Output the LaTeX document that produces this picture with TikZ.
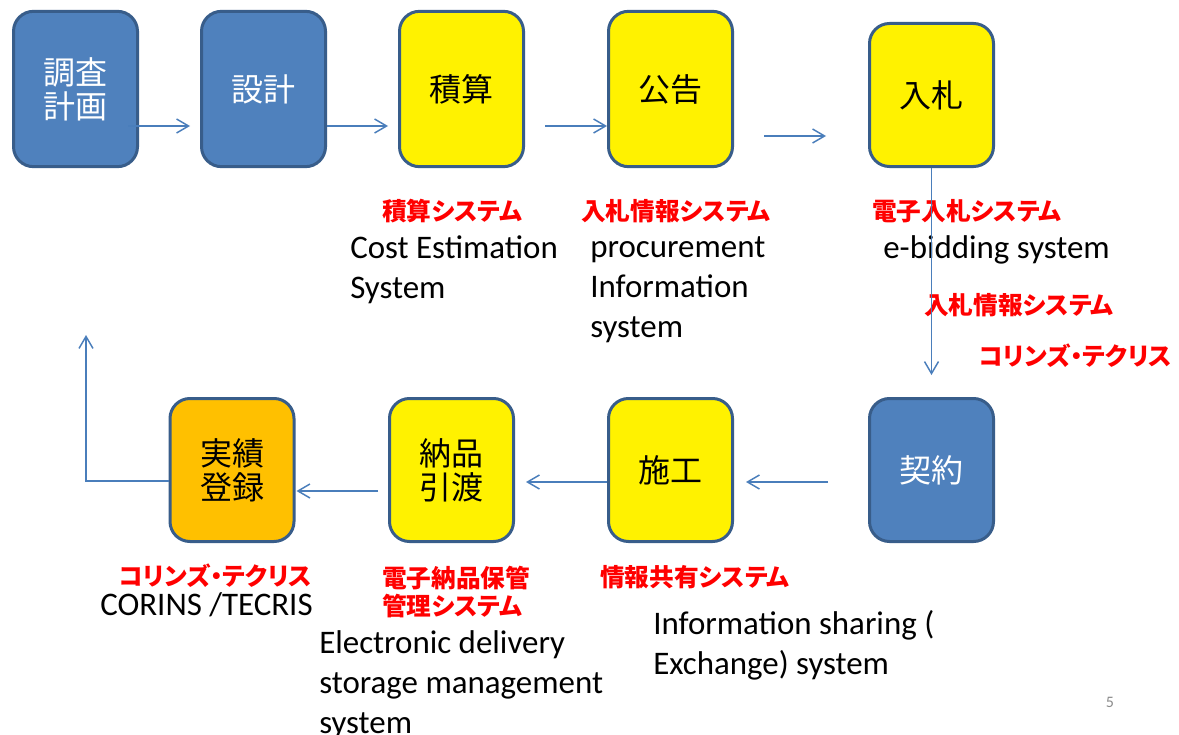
\documentclass[tikz,border=0pt]{standalone}
\usepackage{fontspec}
\setmainfont{Carlito}
\newfontfamily\jp{Noto Sans CJK JP}
\newfontfamily\jpprop{Noto Sans CJK JP}[RawFeature=+palt]
\usetikzlibrary{arrows.meta}
\definecolor{boxblue}{HTML}{4F81BD}
\definecolor{boxedge}{HTML}{385D8A}
\definecolor{flowblue}{HTML}{4A7EBB}
\definecolor{boxorange}{HTML}{FFC000}
\definecolor{pagegray}{HTML}{8C8C8C}

\begin{document}
\begin{tikzpicture}[x=0.75pt,y=-0.75pt,
	stage/.style={draw=boxedge,line width=2.25pt,rounded corners=15pt,minimum width=93pt,minimum height=116.5pt,inner sep=0pt,align=center,font=\jp\fontsize{24}{25.5}\selectfont},
	low/.style={minimum height=107.25pt},
	bluebox/.style={stage,fill=boxblue,text=white},
	yellowbox/.style={stage,fill=yellow},
	sysjp/.style={anchor=west,inner sep=0pt,align=left,text=red,font=\jpprop\bfseries\fontsize{18.5}{21}\selectfont},
	sysen/.style={anchor=west,inner sep=0pt,align=left,font=\fontsize{24.7}{30}\selectfont},
	flow/.style={draw=flowblue,line width=1.1pt,-{Straight Barb[length=9pt,width=10.5pt]}}]
\useasboundingbox (0,0) rectangle (1179,735);
\fill[white] (0,0) rectangle (1179,735);
\draw (75.5,89) node[bluebox] (Survey) {調査\\計画};
\draw (263.5,89) node[bluebox] (Design) {設計};
\draw (461.5,89) node[yellowbox] (Estimate) {積算};
\draw (670.5,89) node[yellowbox] (Notice) {公告};
\draw (931.5,95) node[yellowbox,low] (Bidding) {入札};
\draw (931.5,470) node[bluebox,low] (Contract) {契約};
\draw (670.5,470) node[yellowbox,low] (Works) {施工};
\draw (451.5,470) node[yellowbox,low] (Delivery) {納品\\引渡};
\draw (232,470) node[stage,low,fill=boxorange] (Record) {実績\\登録};

\draw (382,211) node[sysjp] (EstimateJp) {積算システム};
	\draw (350,270) node[sysen] (EstimateEn) {Cost Estimation\\System};
\draw (581,211) node[sysjp] (NoticeJp) {入札情報システム};
	\draw (590,290) node[sysen] (NoticeEn) {procurement\\Information\\system};
\draw (872,211) node[sysjp] (BiddingJp) {電子入札システム};
	\draw (883,250) node[sysen] (BiddingEn) {e-bidding system};
\draw (924,305) node[sysjp] (ContractJp) {入札情報システム};
\draw (979,356) node[sysjp] (ContractJpB) {コリンズ・テクリス};
\draw (600,577) node[sysjp] (WorksJp) {情報共有システム};
	\draw (653,645) node[sysen] (WorksEn) {Information sharing (\\Exchange) system};
\draw (382,592) node[sysjp] (DeliveryJp) {電子納品保管\\管理システム};
	\draw (319,685) node[sysen] (DeliveryEn) {Electronic delivery\\storage management\\system};
\draw (119,576) node[sysjp] (RecordJp) {コリンズ・テクリス};
	\draw (100,605) node[sysen] (RecordEn) {CORINS /TECRIS};
\draw (1110,702) node[text=pagegray,font=\fontsize{12}{14}\selectfont] (Page) {5};
\coordinate (LoopEnd) at (86,335);

\draw[flow] ([shift={(-11,37)}]Survey.east) -- ([shift={(-10,37)}]Design.west);
\draw[flow] ([shift={(0,37)}]Design.east) -- ([shift={(-10,37)}]Estimate.west);
\draw[flow] ([shift={(20,37)}]Estimate.east) -- ([shift={(0,37)}]Notice.west);
\draw[flow] ([shift={(30,47)}]Notice.east) -- ([shift={(-42,41)}]Bidding.west);
\draw[flow] (Bidding.south) -- ([shift={(0,-22)}]Contract.north);
\draw[flow] ([shift={(-40,12)}]Contract.west) -- ([shift={(12,12)}]Works.east);
\draw[flow] ([shift={(0,12)}]Works.west) -- ([shift={(11,12)}]Delivery.east);
\draw[flow] ([shift={(-10,21)}]Delivery.west) -- ([shift={(1,21)}]Record.east);
\draw[flow] ([shift={(0,11)}]Record.west) -| (LoopEnd);
\end{tikzpicture}
\end{document}
